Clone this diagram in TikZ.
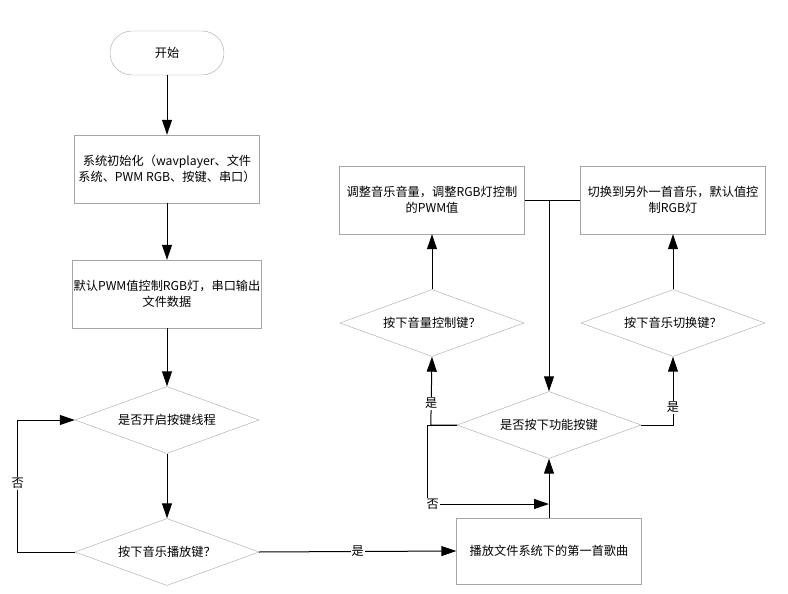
\documentclass[tikz,border=0pt]{standalone}
\usepackage{fontspec}
\setmainfont{Noto Sans CJK SC}
\usetikzlibrary{arrows.meta,shapes.geometric}

\begin{document}
\begin{tikzpicture}[x=1pt, y=-1pt,
		every node/.style={font=\fontsize{12.2}{16}\selectfont},
		term/.style={draw=gray!70, rectangle, rounded corners=22pt, minimum width=114pt, minimum height=44pt},
		proc/.style={draw=gray!70, rectangle, minimum width=185pt, minimum height=68pt, align=center, inner sep=1pt},
		decide/.style={draw=gray!70, diamond, aspect=2.75, minimum width=184pt, minimum height=67pt, inner sep=0pt},
		flow/.style={-{Triangle[length=15pt,width=10pt]}, line width=1pt},
		lbl/.style={fill=white, inner sep=1pt}]
		\useasboundingbox (0,0) rectangle (788,594);
		% Left column
		\node[term] (start) at (167,53) {开始};
		\node[proc] (init) at (167,169) {系统初始化（wavplayer、文件\\系统、PWM RGB、按键、串口）};
		\node[proc] (pwm) at (167,294) {默认PWM值控制RGB灯，串口输出\\文件数据};
		\node[decide] (thread) at (167,420) {是否开启按键线程};
		\node[decide] (playkey) at (167,552) {按下音乐播放键？};
		% Right part
		\node[proc, minimum height=66pt] (play) at (549,551) {播放文件系统下的第一首歌曲};
		\node[decide] (funckey) at (549,425) {是否按下功能按键};
		\node[decide] (volkey) at (432,323) {按下音量控制键？};
		\node[decide] (switchkey) at (673,323) {按下音乐切换键？};
		\node[proc] (vol) at (432,200) {调整音乐音量，调整RGB灯控制\\的PWM值};
		\node[proc] (switch) at (673,200) {切换到另外一首音乐，默认值控\\制RGB灯};
		\coordinate (join) at (funckey.north |- vol.east);
		\coordinate (merge) at (549,504);

		% Connectors
		\draw[flow] (start) -- (init);
		\draw[flow] (init) -- (pwm);
		\draw[flow] (pwm) -- (thread);
		\draw[flow] (thread) -- (playkey);
		\draw[flow] (playkey.west) -- ++(-57,0) |- node[pos=0.26, lbl] {否} (thread.west);
		\draw[flow] (playkey.east) -- node[lbl] {是} (play.west);
		\draw[flow] (play.north) -- (funckey.south);
		\draw[flow] (funckey.west) -- ++(-26,0) -- node[pos=0.32, lbl] {是} (volkey.south);
		\draw[flow] (funckey.west) -- ++(-29,0) |- node[pos=0.52, lbl] {否} (merge);
		\draw[flow] (funckey.east) -| node[pos=0.63, lbl] {是} (switchkey.south);
		\draw[flow] (volkey) -- (vol);
		\draw[flow] (switchkey) -- (switch);
		\draw[line width=1pt] (vol.east) -- (switch.west);
		\draw[flow] (join) -- (funckey.north);
\end{tikzpicture}
\end{document}
